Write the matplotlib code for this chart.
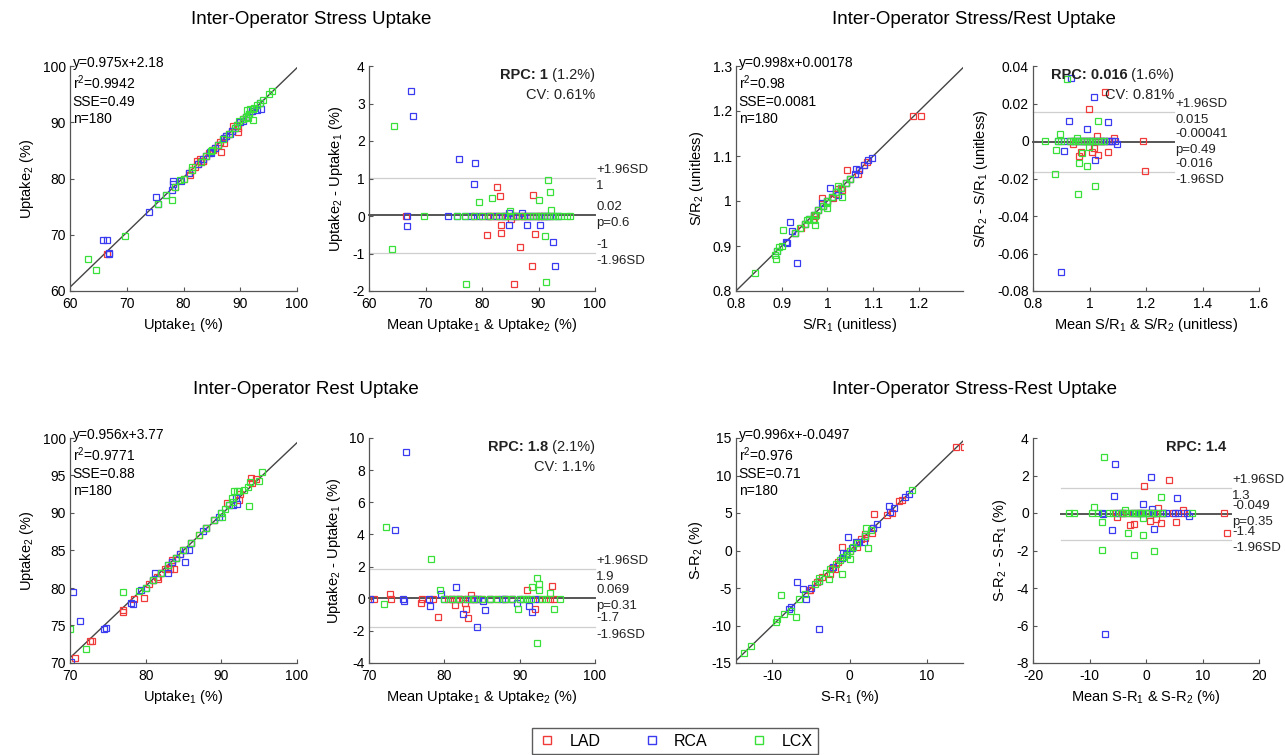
import matplotlib
matplotlib.use('Agg')
import matplotlib.pyplot as plt
from matplotlib.lines import Line2D
from matplotlib.ticker import FuncFormatter
import numpy as np

plt.rcParams['font.family'] = ['Liberation Sans', 'DejaVu Sans']
plt.rcParams['mathtext.fontset'] = 'custom'
plt.rcParams['mathtext.rm'] = 'Liberation Sans'
plt.rcParams['mathtext.it'] = 'Liberation Sans:italic'
plt.rcParams['mathtext.bf'] = 'Liberation Sans:bold'
plt.rcParams['mathtext.default'] = 'regular'

territories = ['LAD', 'RCA', 'LCX']
colors = ['#f03a3a', '#3a3af0', '#3ae03a']

# ---------------- Stress uptake: Bland-Altman means / differences ----------------
stress_lad_mean = [66.6, 82.7, 83.2, 80.9, 83.3, 83.3, 85.1, 89.0, 86.8, 88.9, 89.3, 85.7,
                   78.5, 80.0, 81.0, 81.5, 82.0, 82.5, 83.0, 84.0, 84.5, 85.5, 86.0, 86.5,
                   87.0, 87.5, 88.0, 88.5, 89.5, 90.0, 90.5, 91.0, 92.0]
stress_lad_diff = [0, 0.77, 0.53, -0.5, -0.23, -0.44, -0.09, 0.55, -0.83, -1.33, -0.48, -1.82,
                   0, 0, 0, 0, 0, 0, 0, 0, 0, 0, 0, 0, 0, 0, 0, 0, 0, 0, 0, 0, 0]
stress_rca_mean = [67.4, 67.8, 76.0, 78.8, 78.6, 66.8, 66.8, 84.7, 84.7, 87.1, 88.0, 90.3, 92.6, 93.0,
                   74.0, 75.5, 77.0, 78.0, 79.5, 81.0, 82.5, 83.5, 84.0, 85.5, 86.0, 87.5, 88.5,
                   89.0, 90.0, 91.0, 91.5, 92.0, 93.5]
stress_rca_diff = [3.33, 2.66, 1.53, 1.41, 0.85, -0.27, 0, 0.09, -0.23, 0.09, -0.23, -0.25, -0.70, -1.34,
                   0, 0, 0, 0, 0, 0, 0, 0, 0, 0, 0, 0, 0, 0, 0, 0, 0, 0, 0]
stress_lcx_mean = [64.4, 64.1, 69.7, 77.1, 79.5, 81.8, 84.9, 90.0, 91.7, 92.0, 92.3, 91.1, 91.3,
                   75.5, 77.0, 78.5, 80.0, 81.5, 83.0, 84.0, 85.0, 86.0, 87.0, 88.0, 89.0, 89.5,
                   90.5, 91.0, 91.5, 92.5, 93.0, 93.5, 94.0, 95.0, 95.6]
stress_lcx_diff = [2.41, -0.88, 0, -1.8, 0.38, 0.49, 0.13, 0.43, 0.95, 0.64, 0.16, -0.53, -1.77,
                   0, 0, 0, 0, 0, 0, 0, 0, 0, 0, 0, 0, 0, 0, 0, 0, 0, 0, 0, 0, 0, 0]

# ---------------- Rest uptake ----------------
rest_lad_mean = [70.7, 72.8, 72.9, 76.9, 79.2, 81.4, 82.8, 82.9, 83.2, 83.6, 91.0, 92.0, 94.3, 94.6,
                 77.0, 78.5, 80.5, 81.0, 81.5, 82.0, 82.5, 83.5, 84.0, 84.5, 85.0, 86.0, 87.0,
                 88.0, 89.0, 92.5, 94.0]
rest_lad_diff = [0, 0.31, 0, -0.27, -1.14, -0.39, -0.27, -0.62, -1.22, 0.25, 0.56, -0.64, 0.77, 0,
                 0, 0, 0, 0, 0, 0, 0, 0, 0, 0, 0, 0, 0, 0, 0, 0, 0]
rest_rca_mean = [74.9, 73.5, 70.1, 74.5, 74.7, 78.1, 79.6, 81.6, 82.5, 84.3, 85.1, 85.4, 87.6, 89.6,
                 91.3, 91.6, 78.0, 80.0, 81.0, 82.0, 83.0, 83.5, 84.0, 84.5, 86.0, 88.0, 89.0,
                 90.0, 91.0, 92.0]
rest_rca_diff = [9.13, 4.29, 0, 0, -0.15, -0.44, 0.31, 0.71, -0.95, -1.74, -0.12, -0.73, 0, -0.27,
                 -0.44, -0.81, 0, 0, 0, 0, 0, 0, 0, 0, 0, 0, 0, 0, 0, 0]
rest_lcx_mean = [72.3, 72.0, 78.2, 79.4, 89.8, 91.7, 92.3, 92.5, 92.6, 92.3, 94.0, 94.6, 95.4,
                 80.0, 81.0, 82.0, 83.0, 84.0, 85.0, 86.0, 87.0, 88.0, 89.0, 90.0, 90.5, 91.0,
                 91.5, 93.0, 93.5]
rest_lcx_diff = [4.48, -0.33, 2.45, 0.52, -0.64, 0.71, 1.31, 0.89, 0.54, -2.76, 0.35, -0.64, 0,
                 0, 0, 0, 0, 0, 0, 0, 0, 0, 0, 0, 0, 0, 0, 0, 0]

# ---------------- Stress/Rest ratio ----------------
sr_lad_mean = [1.056, 0.998, 1.025, 0.942, 0.964, 0.969, 1.010, 1.017, 1.029, 1.064, 1.087, 1.188, 1.196,
               0.93, 0.95, 0.97, 0.98, 0.99, 1.00, 1.02, 1.03, 1.04, 1.05, 1.07, 1.08]
sr_lad_diff = [0.0263, 0.0173, 0.0028, -0.0018, -0.0078, -0.006, -0.0057, -0.0036, -0.0075, -0.006,
               0.0014, 0, -0.016, 0, 0, 0, 0, 0, 0, 0, 0, 0, 0, 0, 0]
sr_rca_mean = [0.936, 1.017, 0.928, 1.067, 0.992, 0.909, 1.019, 0.898, 1.096,
               0.89, 0.91, 0.93, 0.95, 0.96, 0.97, 0.98, 0.99, 1.00, 1.01, 1.02, 1.03, 1.04,
               1.05, 1.06, 1.07, 1.08, 1.09]
sr_rca_diff = [0.0338, 0.0237, 0.0107, 0.0103, 0.0064, -0.0052, -0.0101, -0.0701, -0.0018,
               0, 0, 0, 0, 0, 0, 0, 0, 0, 0, 0, 0, 0, 0, 0, 0, 0, 0]
sr_lcx_mean = [0.919, 1.029, 0.895, 0.882, 0.879, 0.964, 0.992, 0.960, 1.020, 0.998, 0.972, 0.841, 0.956,
               0.89, 0.90, 0.93, 0.94, 0.95, 0.96, 0.97, 0.98, 0.99, 1.00, 1.01, 1.02, 1.03,
               1.04, 1.05]
sr_lcx_diff = [0.0333, 0.0107, 0.0037, -0.005, -0.0178, -0.0119, -0.0132, -0.028, -0.024, -0.0034,
               -0.0062, 0, 0.0018, 0, 0, 0, 0, 0, 0, 0, 0, 0, 0, 0, 0, 0, 0, 0]

# ---------------- Stress-Rest difference ----------------
smr_lad_mean = [4.06, -0.27, -2.87, -2.2, -5.2, 0.74, 1.8, 2.6, 5.24, 2.1, 6.5, 13.8, 14.3, -2.3,
                -5.3, -4.2, -3.5, -1.5, -1.0, 0.0, 1.0, 1.5, 3.0, 4.8, 6.8]
smr_lad_diff = [1.74, 1.44, -0.62, -0.6, -0.21, -0.43, -0.32, -0.53, -0.5, 0.27, 0.14, 0, -1.07, 0,
                0, 0, 0, 0, 0, 0, 0, 0, 0, 0, 0]
smr_rca_mean = [-5.48, 0.8, -5.6, -0.56, 5.54, -6.07, 1.5, -7.56, 7.6, -7.2, 1.0,
                -7.8, -5.0, -4.0, -2.2, -1.0, -0.5, 0.3, 1.2, 2.0, 3.0, 3.5, 5.2, 5.7, 7.2]
smr_rca_diff = [2.61, 1.9, 0.89, 0.5, 0.8, -0.91, -0.84, -0.05, -0.14, -6.44, 0.21,
                0, 0, 0, 0, 0, 0, 0, 0, 0, 0, 0, 0, 0, 0]
smr_lcx_mean = [-7.38, 2.6, -9.27, -7.85, -3.2, -0.5, -7.85, -2.04, 1.33, -0.5, -3.8, -13.7, -12.7, 8.1,
                -9.5, -8.5, -6.5, -5.8, -4.5, -4.0, -3.0, -2.5, -1.8, -1.2, -0.8, 0.0, 0.5, 1.0,
                2.0, 2.8]
smr_lcx_diff = [2.97, 0.85, 0.32, -0.5, -1.07, -1.19, -1.97, -2.26, -2.03, -0.27, 0.18, 0, 0, 0,
                0, 0, 0, 0, 0, 0, 0, 0, 0, 0, 0, 0, 0, 0, 0, 0]

# ---------------- Fit and agreement statistics ----------------
fit_slope = [0.975, 0.956, 0.998, 0.996]
fit_intercept = [2.18, 3.77, 0.00178, -0.0497]
fit_text = [
    ["y=0.975x+2.18", "r$^2$=0.9942", "SSE=0.49", "n=180"],
    ["y=0.956x+3.77", "r$^2$=0.9771", "SSE=0.88", "n=180"],
    ["y=0.998x+0.00178", "r$^2$=0.98", "SSE=0.0081", "n=180"],
    ["y=0.996x+-0.0497", "r$^2$=0.976", "SSE=0.71", "n=180"],
]
ba_mean = [0.02, 0.069, -0.00041, -0.049]
ba_upper = [1.02, 1.87, 0.0156, 1.32]
ba_lower = [-0.98, -1.73, -0.0164, -1.42]
ba_labels = [
    ["+1.96SD", "1", "0.02", "p=0.6", "-1", "-1.96SD"],
    ["+1.96SD", "1.9", "0.069", "p=0.31", "-1.7", "-1.96SD"],
    ["+1.96SD", "0.015", "-0.00041", "p=0.49", "-0.016", "-1.96SD"],
    ["+1.96SD", "1.3", "-0.049", "p=0.35", "-1.4", "-1.96SD"],
]
rpc_bold = ["RPC: 1", "RPC: 1.8", "RPC: 0.016", "RPC: 1.4"]
rpc_rest = [" (1.2%)", " (2.1%)", " (1.6%)", ""]
cv_text = ["CV: 0.61%", "CV: 1.1%", "CV: 0.81%", ""]

titles = ["Inter-Operator Stress Uptake", "Inter-Operator Rest Uptake",
          "Inter-Operator Stress/Rest Uptake", "Inter-Operator Stress-Rest Uptake"]

datasets = [
    ([stress_lad_mean, stress_rca_mean, stress_lcx_mean], [stress_lad_diff, stress_rca_diff, stress_lcx_diff]),
    ([rest_lad_mean, rest_rca_mean, rest_lcx_mean], [rest_lad_diff, rest_rca_diff, rest_lcx_diff]),
    ([sr_lad_mean, sr_rca_mean, sr_lcx_mean], [sr_lad_diff, sr_rca_diff, sr_lcx_diff]),
    ([smr_lad_mean, smr_rca_mean, smr_lcx_mean], [smr_lad_diff, smr_rca_diff, smr_lcx_diff]),
]

sc_xlim = [(60, 100), (70, 100), (0.8, 1.297), (-14.7, 14.7)]
sc_ylim = [(60, 100), (70, 100), (0.8, 1.3), (-15, 15)]
sc_xticks = [[60, 70, 80, 90, 100], [70, 80, 90, 100], [0.8, 0.9, 1.0, 1.1, 1.2], [-10, 0, 10]]
sc_yticks = [[60, 70, 80, 90, 100], [70, 75, 80, 85, 90, 95, 100],
             [0.8, 0.9, 1.0, 1.1, 1.2, 1.3], [-15, -10, -5, 0, 5, 10, 15]]
ba_xlim = [(60, 100), (70, 100), (0.8, 1.6), (-20, 20)]
ba_ylim = [(-2, 4), (-4, 10), (-0.08, 0.04), (-8, 4)]
ba_xticks = [[60, 70, 80, 90, 100], [70, 80, 90, 100], [0.8, 1.0, 1.2, 1.4, 1.6], [-20, -10, 0, 10, 20]]
ba_yticks = [[-2, -1, 0, 1, 2, 3, 4], [-4, -2, 0, 2, 4, 6, 8, 10],
             [-0.08, -0.06, -0.04, -0.02, 0, 0.02, 0.04], [-8, -6, -4, -2, 0, 2, 4]]
ba_line_x = [(60, 100), (70, 100), (0.8, 1.3), (-15, 15)]

sc_xlabels = ["Uptake$_1$ (%)", "Uptake$_1$ (%)", "S/R$_1$ (unitless)", "S-R$_1$ (%)"]
sc_ylabels = ["Uptake$_2$ (%)", "Uptake$_2$ (%)", "S/R$_2$ (unitless)", "S-R$_2$ (%)"]
ba_xlabels = ["Mean Uptake$_1$ & Uptake$_2$ (%)", "Mean Uptake$_1$ & Uptake$_2$ (%)",
              "Mean S/R$_1$ & S/R$_2$ (unitless)", "Mean S-R$_1$ & S-R$_2$ (%)"]
ba_ylabels = ["Uptake$_2$ - Uptake$_1$ (%)", "Uptake$_2$ - Uptake$_1$ (%)",
              "S/R$_2$ - S/R$_1$ (unitless)", "S-R$_2$ - S-R$_1$ (%)"]

W, H = 1285, 755
fig = plt.figure(figsize=(W / 100, H / 100), dpi=100)

def ax_at(left, top, right, bottom):
    return fig.add_axes([left / W, 1 - bottom / H, (right - left) / W, (bottom - top) / H])

# (scatter left, ba left, top, bottom) for each dataset
layout = [
    (70, 369, 66, 291),
    (70, 369, 438, 663),
    (736, 1033, 66, 291),
    (736, 1033, 438, 663),
]
title_pos = [(191, 20), (193, 390), (832, 20), (832, 390)]

fmt = FuncFormatter(lambda v, p: ('%g' % round(v, 6)))
spine_col = '#555555'
TICK = 10
LAB = 10.5

def style(ax):
    for s in ['top', 'right']:
        ax.spines[s].set_visible(False)
    for s in ['left', 'bottom']:
        ax.spines[s].set_color(spine_col)
        ax.spines[s].set_linewidth(0.9)
    ax.tick_params(direction='in', length=3, width=0.8, color=spine_col,
                   labelsize=TICK)
    ax.tick_params(axis='x', pad=4)
    ax.tick_params(axis='y', pad=3)
    ax.xaxis.set_major_formatter(fmt)
    ax.yaxis.set_major_formatter(fmt)

for i in range(4):
    means, diffs = datasets[i]
    sl, bl, top, bot = layout[i]
    ax1 = ax_at(sl, top, sl + 227, bot)
    ax2 = ax_at(bl, top, bl + 226, bot)

    # scatter
    xs = np.array(sc_xlim[i])
    ax1.plot(xs, fit_slope[i] * xs + fit_intercept[i], color='#444444', lw=1.0, zorder=1)
    for k in range(3):
        m = np.array(means[k])
        d = np.array(diffs[k])
        ax1.plot(m - d / 2, m + d / 2, 's', mfc='none', mec=colors[k], ms=5, mew=0.9, zorder=2)
    ax1.set_xlim(*sc_xlim[i])
    ax1.set_ylim(*sc_ylim[i])
    ax1.set_xticks(sc_xticks[i])
    ax1.set_yticks(sc_yticks[i])
    style(ax1)
    ax1.set_xlabel(sc_xlabels[i], fontsize=LAB, labelpad=4)
    ax1.set_ylabel(sc_ylabels[i], fontsize=LAB, labelpad=5)
    ax1.text(0.012, 1.045, "\n".join(fit_text[i]), transform=ax1.transAxes,
             ha='left', va='top', fontsize=10, linespacing=1.25, zorder=3)

    # Bland-Altman
    lx = np.array(ba_line_x[i])
    ax2.plot(lx, [ba_upper[i]] * 2, color='#cfcfcf', lw=0.9, zorder=1, clip_on=False)
    ax2.plot(lx, [ba_lower[i]] * 2, color='#cfcfcf', lw=0.9, zorder=1, clip_on=False)
    ax2.plot(lx, [ba_mean[i]] * 2, color='#555555', lw=1.4, zorder=1, clip_on=False)
    for k in range(3):
        ax2.plot(means[k], diffs[k], 's', mfc='none', mec=colors[k], ms=5, mew=0.9, zorder=2)
    ax2.set_xlim(*ba_xlim[i])
    ax2.set_ylim(*ba_ylim[i])
    ax2.set_xticks(ba_xticks[i])
    ax2.set_yticks(ba_yticks[i])
    style(ax2)
    ax2.set_xlabel(ba_xlabels[i], fontsize=LAB, labelpad=4)
    ax2.set_ylabel(ba_ylabels[i], fontsize=LAB, labelpad=5)

    labs = ba_labels[i]
    xr = lx[1]
    kw = dict(fontsize=9.5, ha='left', clip_on=False, color='#222222')
    for val, above, below in [(ba_upper[i], labs[0], labs[1]),
                              (ba_mean[i], labs[2], labs[3]),
                              (ba_lower[i], labs[4], labs[5])]:
        ax2.annotate(above, xy=(xr, val), xytext=(1, 1.5), textcoords='offset points',
                     va='bottom', **kw)
        ax2.annotate(below, xy=(xr, val), xytext=(1, -1.5), textcoords='offset points',
                     va='top', **kw)

    # RPC / CV text
    ytop = ba_ylim[i][1] - 0.01 * (ba_ylim[i][1] - ba_ylim[i][0])
    t = ax2.text(xr, ytop, rpc_rest[i] if rpc_rest[i] else " ", ha='right', va='top',
                 fontsize=10.5, color='#222222')
    ax2.annotate(rpc_bold[i], xy=(0, 0), xycoords=t, ha='right', va='bottom',
                 fontsize=10.5, fontweight='bold', color='#222222')
    if cv_text[i]:
        ax2.annotate(cv_text[i], xy=(xr, ytop), xytext=(0, -14), textcoords='offset points',
                     ha='right', va='top', fontsize=10.5, color='#222222')

    tx, ty = title_pos[i]
    fig.text(tx / W, 1 - ty / H, titles[i], ha='left', va='center', fontsize=13.5)

handles = [Line2D([], [], ls='none', marker='s', mfc='none', mec=c, ms=6, mew=1.0) for c in colors]
fig.legend(handles, territories, loc='upper center', bbox_to_anchor=(675 / W, 1 - 728 / H),
           ncol=3, frameon=True, fancybox=False, edgecolor='#333333', fontsize=11.5,
           columnspacing=2.6, handletextpad=0.8, borderpad=0.35, handlelength=1.2,
           borderaxespad=0)

fig.savefig('out.png', dpi=100, facecolor='white')
